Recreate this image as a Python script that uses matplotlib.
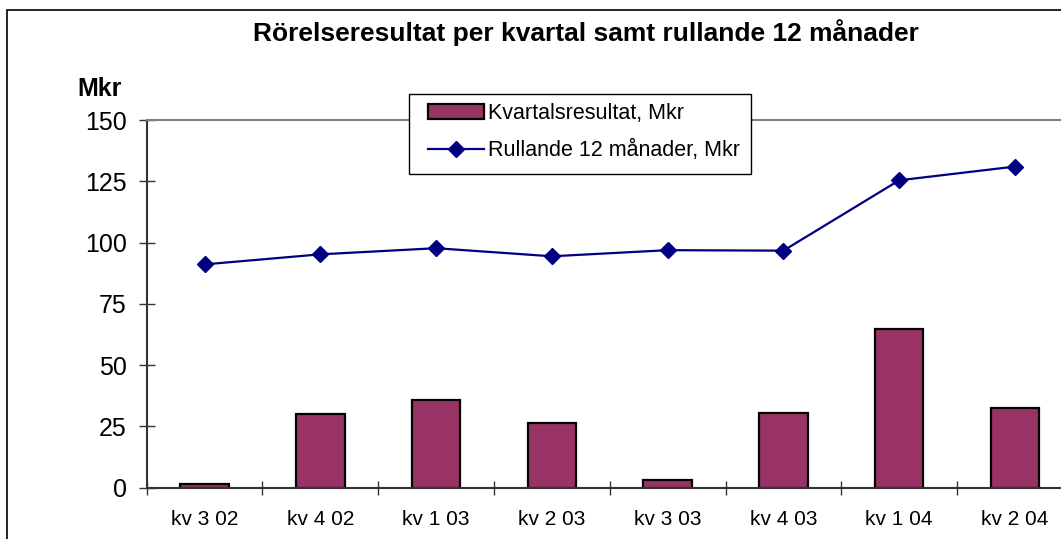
import matplotlib
matplotlib.use("Agg")
import matplotlib.pyplot as plt
import numpy as np
from matplotlib.patches import Rectangle

plt.rcParams['font.family'] = ['Liberation Sans', 'DejaVu Sans']

# data
kvartal = ["kv 3 02", "kv 4 02", "kv 1 03", "kv 2 03", "kv 3 03", "kv 4 03", "kv 1 04", "kv 2 04"]
kvartalsresultat = [1.4, 30.2, 35.9, 26.5, 3.0, 30.3, 64.6, 32.6]
rullande_12 = [91.1, 95.2, 97.7, 94.4, 96.9, 96.7, 125.4, 131.0]

W, H = 1061, 539
fig = plt.figure(figsize=(W / 100, H / 100), dpi=100)

# plot area (right edge runs past the picture like in the original)
left, right = 146.7, 1072.8
top, bottom = 120.0, 487.7
ax = fig.add_axes([left / W, 1 - bottom / H, (right - left) / W, (bottom - top) / H])

x = np.arange(len(kvartal)) + 0.5
bars = ax.bar(x, kvartalsresultat, width=0.42, color='#993366', edgecolor='black',
              linewidth=1.6, label='Kvartalsresultat, Mkr', zorder=2)
line, = ax.plot(x, rullande_12, color='#000080', lw=1.6, marker='D', markersize=8,
                label='Rullande 12 månader, Mkr', zorder=3)

ax.set_xlim(0, len(kvartal))
ax.set_ylim(0, 150)
ax.set_yticks(np.arange(0, 151, 25))

ax.set_xticks(x)
ax.set_xticklabels(kvartal, fontsize=15)
ax.set_xticks(np.arange(0, len(kvartal) + 1), minor=True)
ax.tick_params(axis='x', which='major', length=0, pad=16)
ax.tick_params(axis='x', which='minor', direction='inout', length=9.5, width=1, color='#333333')
ax.tick_params(axis='y', direction='inout', length=12, width=1, pad=8.4, labelsize=18,
               color='#333333')

ax.spines['right'].set_visible(False)
ax.spines['top'].set_color('#808080')
ax.spines['top'].set_linewidth(1.5)
ax.spines['left'].set_color('#333333')
ax.spines['left'].set_linewidth(1.5)
ax.spines['bottom'].set_color('#333333')
ax.spines['bottom'].set_linewidth(1.5)

# legend without its own frame; the box is drawn separately
leg = fig.legend(handles=[bars, line], loc='upper left',
                 bbox_to_anchor=(428 / W, 1 - 103 / H),
                 fontsize=15.5, frameon=False, borderpad=0,
                 handlelength=2.6, handleheight=0.65, handletextpad=0.2, labelspacing=0.75,
                 borderaxespad=0)
fig.patches.append(Rectangle((409 / W, 1 - 174 / H), (751 - 409) / W, (174 - 94.3) / H,
                             transform=fig.transFigure, fc='white', ec='black', lw=1, zorder=3))
leg.set_zorder(4)

fig.text(585.5 / W, 1 - 33 / H, 'Rörelseresultat per kvartal samt rullande 12 månader',
         ha='center', va='center', fontsize=19, fontweight='bold')
fig.text(100 / W, 1 - 89 / H, 'Mkr', ha='center', va='center', fontsize=18, fontweight='bold')

# outer chart frame, cut off on the right and bottom
fig.patches.append(Rectangle((7 / W, -0.1), 1.2, 1 - 10 / H + 0.1, transform=fig.transFigure,
                             fill=False, ec='black', lw=1.2))

fig.savefig('out.png', dpi=100)
